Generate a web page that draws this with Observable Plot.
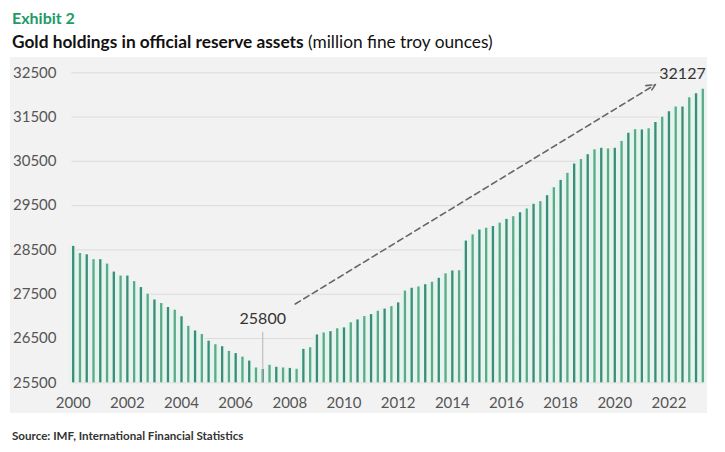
<!DOCTYPE html>
<html>
<head>
<meta charset="utf-8">
<script src="https://cdn.jsdelivr.net/npm/d3@7"></script>
<script src="https://cdn.jsdelivr.net/npm/@observablehq/plot@0.6"></script>
<style>
  body { margin: 0; background: #fff; font-family: Lato, "Open Sans", sans-serif; }
  #wrap { position: relative; width: 725px; height: 452px; overflow: hidden; }
  #exhibit { position: absolute; left: 12px; top: 8px; font-size: 16px; font-weight: 700; color: #229a66; }
  #title { position: absolute; left: 12px; top: 31px; font-size: 17.3px; color: #111; white-space: nowrap; }
  #title b { font-weight: 700; }
  #panel { position: absolute; left: 10px; top: 57px; width: 697px; height: 356px; background: #f2f2f2; }
  #source { position: absolute; left: 12px; top: 429px; font-size: 11.6px; font-weight: 700; color: #333; }
</style>
</head>
<body>
<div id="wrap">
  <div id="exhibit">Exhibit 2</div>
  <div id="title"><b>Gold holdings in official reserve assets</b> (million fine troy ounces)</div>
  <div id="panel"></div>
  <div id="source">Source: IMF, International Financial Statistics</div>
</div>
<script>
// Quarterly gold holdings, 2000 Q1 .. 2023 Q2 (million fine troy ounces)
const startYear = 2000;
const holdings = [
  28580, 28420, 28390, 28280, 28280, 28180, 28000, 27910,
  27910, 27785, 27650, 27500, 27370, 27290, 27200, 27140,
  26990, 26775, 26670, 26590, 26440, 26360, 26315, 26210,
  26160, 26080, 25990, 25835, 25800, 25895, 25850, 25835,
  25825, 25805, 26255, 26292, 26580, 26625, 26655, 26720,
  26740, 26855, 26920, 26995, 27040, 27115, 27165, 27220,
  27305, 27570, 27635, 27665, 27715, 27770, 27860, 27960,
  28025, 28030, 28700, 28840, 28950, 28990, 29030, 29105,
  29190, 29250, 29340, 29425, 29530, 29590, 29725, 29905,
  30070, 30230, 30440, 30540, 30650, 30760, 30795, 30780,
  30795, 30950, 31135, 31215, 31210, 31235, 31375, 31495,
  31620, 31730, 31725, 31935, 32025, 32127
];
const yTicks = [25500, 26500, 27500, 28500, 29500, 30500, 31500, 32500];
const xTicks = [2000, 2002, 2004, 2006, 2008, 2010, 2012, 2014, 2016, 2018, 2020, 2022];
const minLabel = {date: 2007.0, value: 25800, text: "25800", textY: 26950, lineTop: 26640};
const maxLabel = {date: 2022.5, value: 32127, text: "32127", textY: 32470};
const trend = [{x1: 2008.2, y1: 27280, x2: 2021.5, y2: 32235}];

const data = holdings.map((v, i) => ({date: startYear + i / 4, value: v, i}));
const base = yTicks[0];
const xMin = data[0].date, xMax = data[data.length - 1].date;

const chart = Plot.plot({
  width: 697,
  height: 356,
  marginLeft: 50,
  marginRight: 5,
  marginTop: 15,
  marginBottom: 30.7,
  style: {background: "transparent", fontFamily: "Lato, 'Open Sans', sans-serif", color: "#555", overflow: "visible"},
  x: {type: "linear", domain: [2000, 2023.25], range: [62.7, 692.3]},
  y: {domain: [25500, 32500], range: [325.3, 15.3]},
  marks: [
    Plot.ruleY(yTicks, {y: d => d, x1: xMin - 0.05, x2: xMax + 0.1, stroke: "#dcdcdc", strokeWidth: 1}),
    Plot.rectY(data, {x1: d => d.date - 0.125, x2: d => d.date + 0.125, y1: base, y2: "value", fill: "#e5f4ec"}),
    Plot.ruleX(data, {x: "date", y1: base, y2: "value", stroke: d => d.i % 2 === 0 ? "#3b8c79" : "#5aaa8b", strokeWidth: 2.3}),
    Plot.ruleX([minLabel], {x: "date", y1: base, y2: "lineTop", stroke: "#b5b5b5", strokeWidth: 1}),
    Plot.text([minLabel], {x: "date", y: "textY", text: "text", fontSize: 16, fill: "#333"}),
    Plot.text([maxLabel], {x: "date", y: "textY", text: "text", fontSize: 16, fill: "#333"}),
    Plot.arrow(trend, {x1: "x1", y1: "y1", x2: "x2", y2: "y2", stroke: "#666", strokeWidth: 1.6, strokeDasharray: "6,4", headLength: 9, headAngle: 50}),
    Plot.axisY({ticks: yTicks, tickSize: 0, tickPadding: 4, fontSize: 15, tickFormat: d => String(d)}),
    Plot.axisX({ticks: xTicks, tickSize: 0, tickPadding: 15, fontSize: 15, tickFormat: d => String(d)})
  ]
});
document.getElementById("panel").appendChild(chart);
</script>
</body>
</html>
